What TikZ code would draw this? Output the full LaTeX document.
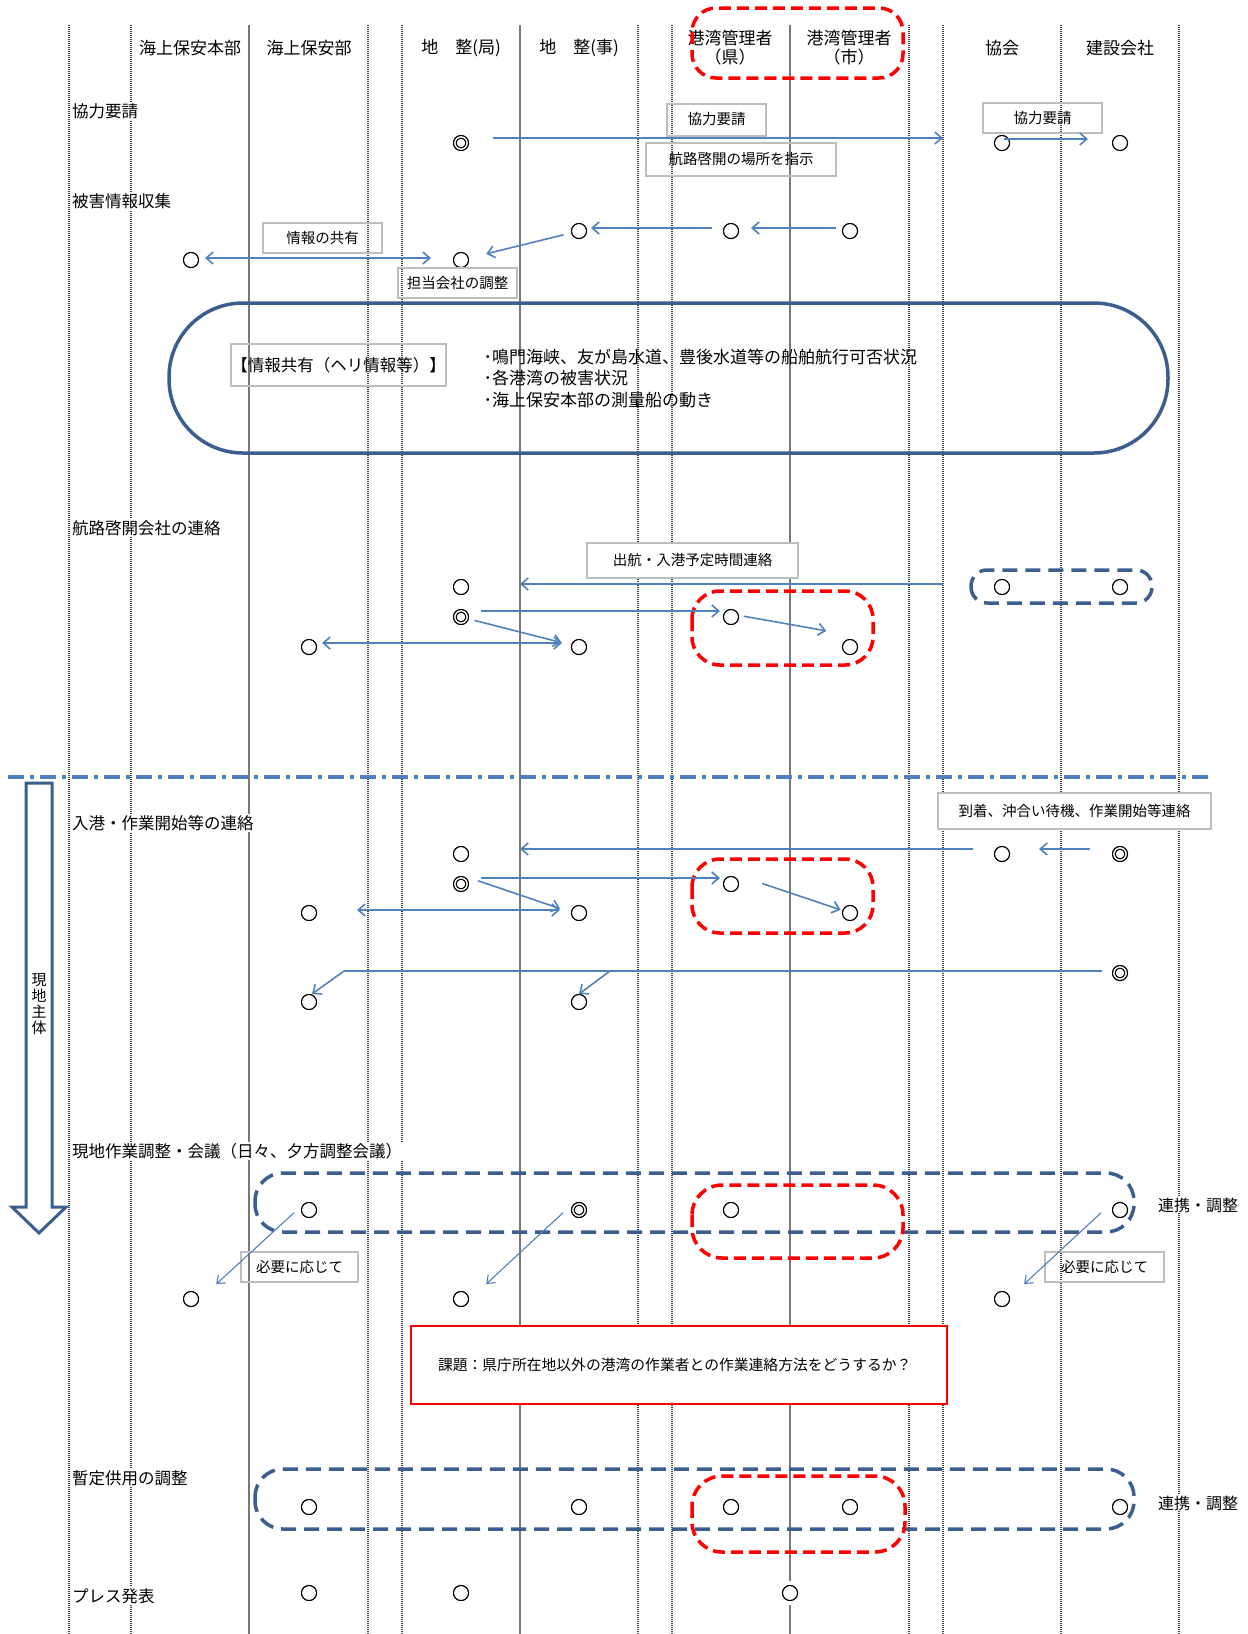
\documentclass[tikz,border=0pt]{standalone}
\usepackage{fontspec}
\setmainfont{Noto Sans CJK JP}
\newfontfamily\marufont[FakeBold=2.5]{Noto Sans CJK JP}
\usetikzlibrary{arrows.meta}
\definecolor{arrowblue}{RGB}{79,129,189}
\definecolor{groupblue}{RGB}{58,95,143}
\definecolor{framegray}{RGB}{190,190,190}
\definecolor{rulegray}{RGB}{120,120,120}

\begin{document}
\begin{tikzpicture}[x=1pt,y=-1pt,
  vdot/.style={black!75,line width=1.1pt,dash pattern=on 1pt off 1pt},
  vsolid/.style={rulegray,line width=1.4pt},
  maru/.style={inner sep=0pt,font=\fontsize{17.5}{17.5}\marufont},
  head/.style={align=center,font=\fontsize{17}{19}\selectfont},
  rowlab/.style={anchor=west,fill=white,inner sep=1pt,font=\fontsize{16.5}{18}\selectfont},
  memo/.style={draw=framegray,line width=2pt,inner sep=0pt,font=\fontsize{14.5}{16}\selectfont},
  arr/.style={arrowblue,line width=1.6pt,-{Straight Barb[length=7pt,width=12pt]}},
  darr/.style={arrowblue,line width=1.6pt,{Straight Barb[length=7pt,width=12pt]}-{Straight Barb[length=7pt,width=12pt]}},
  thinarr/.style={arrowblue,line width=1.1pt,-{Straight Barb[length=7pt,width=11pt]}},
  bluegrp/.style={groupblue,line width=3.5pt,dash pattern=on 15pt off 8pt,rounded corners=28pt},
  redgrp/.style={red,line width=3.5pt,dash pattern=on 12pt off 6pt,rounded corners=24pt}]
  \useasboundingbox (0,0) rectangle (1248,1634);

  % lanes
  \foreach \x in {69,131,368,402,638,672,909,943,1061,1179}
     \draw[vdot] (\x,25) -- (\x,1634);
  \foreach \x in {249,520,790}
     \draw[vsolid] (\x,25) -- (\x,1634);

  % headers
  \node[head] (hA) at (190,48) {海上保安本部};
  \node[head] (hB) at (309,48) {海上保安部};
  \node[head] (hC) at (461,48) {地　整(局)};
  \node[head] (hD) at (579,48) {地　整(事)};
  \node[head] (hE) at (730,47.5) {港湾管理者\\（県）};
  \node[head] (hF) at (849,47.5) {港湾管理者\\（市）};
  \node[head] (hG) at (1002,48) {協会};
  \node[head] (hH) at (1120,48) {建設会社};
  \draw[redgrp] (692,8) rectangle (903,78);

  % row labels
  \node[rowlab] (l1) at (71,111) {協力要請};
  \node[rowlab] (l2) at (71,201) {被害情報収集};
  \node[rowlab] (l3) at (71,528) {航路啓開会社の連絡};
  \node[rowlab] (l4) at (71,823) {入港・作業開始等の連絡};
  \node[rowlab] (l5) at (71,1151) {現地作業調整・会議（日々、夕方調整会議）};
  \node[rowlab] (l6) at (71,1478) {暫定供用の調整};
  \node[rowlab] (l7) at (71,1596) {プレス発表};

  % 協力要請
  \node[maru] (r1C) at (461,143) {◎};
  \node[maru] (r1G) at (1002,143) {○};
  \node[maru] (r1H) at (1120,143) {○};
  \node[memo,minimum width=99pt,minimum height=32pt] (m1) at (716.5,119.5) {協力要請};
  \node[memo,minimum width=190pt,minimum height=33pt] (m2) at (741,159.5) {航路啓開の場所を指示};
  \node[memo,minimum width=119pt,minimum height=30pt] (m3) at (1042.5,118) {協力要請};
  \draw[arr,shorten <=32pt,shorten >=59pt] ([yshift=5pt]r1C.center) -- ([yshift=5pt]r1G.center);
  \draw[arr,shorten <=2pt,shorten >=32pt] ([yshift=4pt]r1G.center) -- ([yshift=4pt]r1H.center);

  % 被害情報収集
  \node[maru] (r2D) at (579,231) {○};
  \node[maru] (r2E) at (731,231) {○};
  \node[maru] (r2F) at (850,231) {○};
  \node[maru] (r2A) at (191,260) {○};
  \node[maru] (r2C) at (461,260) {○};
  \node[memo,minimum width=119pt,minimum height=30pt] (m4) at (322.5,238) {情報の共有};
  \node[memo,minimum width=119pt,minimum height=30pt] (m5) at (457.5,283) {担当会社の調整};
  \draw[arr,shorten <=14pt,shorten >=20pt] ([yshift=3pt]r2F.center) -- ([yshift=3pt]r2E.center);
  \draw[arr,shorten <=19pt,shorten >=12pt] ([yshift=3pt]r2E.center) -- ([yshift=3pt]r2D.center);
  \draw[arr,shorten <=16pt,shorten >=26pt] (r2D.center) -- (r2C.center);
  \draw[darr,shorten <=14pt,shorten >=30pt] ([yshift=2pt]r2A.center) -- ([yshift=2pt]r2C.center);

  % shared information
  \draw[groupblue,line width=3.5pt,rounded corners=74pt] (169,303) rectangle (1168,453);
  \node[memo,minimum width=215pt,minimum height=42pt,font=\fontsize{16.5}{18}\selectfont] (m6) at (338.5,365) {【情報共有（ヘリ情報等）】};
  \node[anchor=west,align=left,font=\fontsize{17}{21.5}\selectfont] (info) at (480,378.5)
     {･鳴門海峡、友が島水道、豊後水道等の船舶航行可否状況\\･各港湾の被害状況\\･海上保安本部の測量船の動き};

  % 航路啓開会社の連絡
  \node[memo,fill=white,minimum width=211pt,minimum height=35pt] (m7) at (692.5,560.5) {出航・入港予定時間連絡};
  \draw[bluegrp,rounded corners=16pt] (971,570) rectangle (1152,603);
  \draw[redgrp,rounded corners=28pt] (692,591) rectangle (873,665);
  \node[maru] (r3C) at (461,587) {○};
  \node[maru] (r3G) at (1002,587) {○};
  \node[maru] (r3H) at (1120,587) {○};
  \node[maru] (r3C2) at (461,617) {◎};
  \node[maru] (r3E) at (731,617) {○};
  \node[maru] (r3F) at (850,647) {○};
  \node[maru] (r3B) at (309,647) {○};
  \node[maru] (r3D) at (579,647) {○};
  \draw[arr,shorten <=59pt,shorten >=59pt] ([yshift=3pt]r3G.center) -- ([yshift=3pt]r3C.center);
  \draw[arr,shorten <=20pt,shorten >=11pt] ([yshift=6pt]r3C2.center) -- ([yshift=6pt]r3E.center);
  \draw[arr,shorten <=13pt,shorten >=24pt] ([yshift=3pt]r3E.center) -- ([yshift=12pt]r3F.center);
  \draw[arr,shorten <=14pt,shorten >=18pt] (r3C2.center) -- (r3D.center);
  \draw[darr,shorten <=13pt,shorten >=17pt] ([yshift=4pt]r3B.center) -- ([yshift=4pt]r3D.center);

  % separator
  \draw[arrowblue,line width=4pt,dash pattern=on 16pt off 6pt on 4pt off 6pt] (8,777) -- (1211,777);
  \draw[groupblue,line width=3pt,fill=white] (26,783) -- (52,783) -- (52,1207) -- (66,1207)
     -- (39,1233) -- (12,1207) -- (26,1207) -- cycle;
  \node[align=center,font=\fontsize{15}{16}\selectfont] (genchi) at (39,1004) {現\\地\\主\\体};

  % 入港・作業開始等の連絡
  \node[memo,fill=white,minimum width=273pt,minimum height=36pt] (m8) at (1074.5,811) {到着、沖合い待機、作業開始等連絡};
  \draw[redgrp,rounded corners=28pt] (692,859) rectangle (873,933);
  \node[maru] (r4C) at (461,854) {○};
  \node[maru] (r4G) at (1002,854) {○};
  \node[maru] (r4H) at (1120,854) {◎};
  \node[maru] (r4C2) at (461,884) {◎};
  \node[maru] (r4E) at (731,884) {○};
  \node[maru] (r4F) at (850,913) {○};
  \node[maru] (r4B) at (309,913) {○};
  \node[maru] (r4D) at (579,913) {○};
  \node[maru] (r4H2) at (1120,973) {◎};
  \node[maru] (r4B2) at (309,1002) {○};
  \node[maru] (r4D2) at (579,1002) {○};
  \draw[arr,shorten <=29pt,shorten >=59pt] ([yshift=5pt]r4G.center) -- ([yshift=5pt]r4C.center);
  \draw[arr,shorten <=30pt,shorten >=37pt] ([yshift=5pt]r4H.center) -- ([yshift=5pt]r4G.center);
  \draw[arr,shorten <=20pt,shorten >=11pt] ([yshift=6pt]r4C2.center) -- ([yshift=6pt]r4E.center);
  \draw[arr,shorten <=33pt,shorten >=10pt] ([yshift=11pt]r4E.center) -- (r4F.center);
  \draw[arr,shorten <=18pt,shorten >=20pt] ([yshift=9pt]r4C2.center) -- ([yshift=-2pt]r4D.center);
  \draw[darr,shorten <=48pt,shorten >=19pt] ([yshift=3pt]r4B.center) -- ([yshift=3pt]r4D.center);
  \coordinate (k1) at (344,971);
  \coordinate (k2) at (610,971);
  \draw[arrowblue,line width=1.6pt] ([xshift=-18pt,yshift=2pt]r4H2.center) -- (k1);
  \draw[arr] (k1) -- ([xshift=3pt,yshift=8pt]r4B2.center);
  \draw[arr] (k2) -- ([yshift=8pt]r4D2.center);

  % 現地作業調整・会議
  \draw[bluegrp] (255,1173) rectangle (1134,1232);
  \draw[redgrp,rounded corners=30pt] (692,1185) rectangle (903,1258);
  \node[maru] (r5B) at (309,1210) {○};
  \node[maru] (r5D) at (579,1210) {◎};
  \node[maru] (r5E) at (731,1210) {○};
  \node[maru] (r5H) at (1120,1210) {○};
  \node[fill=white,inner sep=1pt,font=\fontsize{16}{18}\selectfont] (rk1) at (1198,1205) {連携・調整};
  \node[memo,minimum width=117pt,minimum height=30pt] (m9) at (299.5,1267) {必要に応じて};
  \node[memo,minimum width=119pt,minimum height=30pt] (m10) at (1104.5,1267) {必要に応じて};
  \node[maru] (r5A) at (191,1299) {○};
  \node[maru] (r5C) at (461,1299) {○};
  \node[maru] (r5G) at (1002,1299) {○};
  \draw[thinarr,shorten <=4pt,shorten >=22pt] ([xshift=-12pt]r5B.center) -- ([xshift=9pt]r5A.center);
  \draw[thinarr,shorten <=4pt,shorten >=22pt] ([xshift=-13pt]r5D.center) -- ([xshift=9pt]r5C.center);
  \draw[thinarr,shorten <=4pt,shorten >=22pt] ([xshift=-16pt]r5H.center) -- ([xshift=6pt]r5G.center);
  \node[draw=red,line width=1.5pt,fill=white,text width=482pt,inner xsep=27pt,minimum height=78pt,
     align=left,font=\fontsize{14.8}{16}\selectfont] (kadai) at (679,1365)
     {課題：県庁所在地以外の港湾の作業者との作業連絡方法をどうするか？};

  % 暫定供用の調整
  \draw[bluegrp] (255,1469) rectangle (1134,1529);
  \draw[redgrp,rounded corners=30pt] (692,1476) rectangle (905,1552);
  \foreach \n/\x in {B/309,D/579,E/731,F/850,H/1120}
     \node[maru] (r6\n) at (\x,1507) {○};
  \node[fill=white,inner sep=1pt,font=\fontsize{16}{18}\selectfont] (rk2) at (1198,1503) {連携・調整};

  % プレス発表
  \node[maru] (r7B) at (309,1593) {○};
  \node[maru] (r7C) at (461,1593) {○};
  \node[maru,fill=white,inner ysep=4pt,inner xsep=1pt] (r7X) at (790,1593) {○};
\end{tikzpicture}
\end{document}
